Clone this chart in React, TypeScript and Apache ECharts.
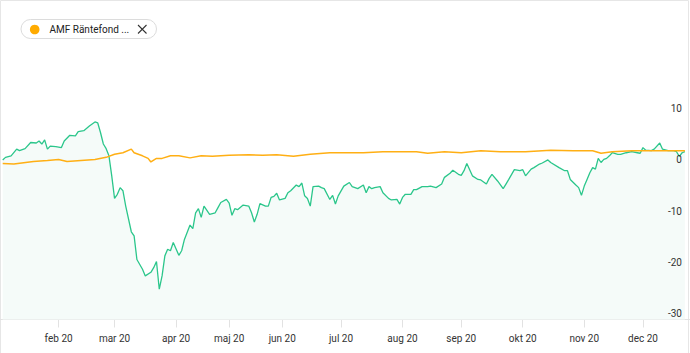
import React, { useEffect, useRef } from "react";
import * as echarts from "echarts";

// Trading days per month (Jan..Dec 2020, Dec partial) — x axis is trading-day index
const monthLabels = ["jan 20", "feb 20", "mar 20", "apr 20", "maj 20", "jun 20", "jul 20", "aug 20", "sep 20", "okt 20", "nov 20", "dec 20"];
const monthTradingDays = [20, 20, 22, 19, 19, 21, 22, 21, 22, 22, 21, 16];
const yTicks = [-30, -20, -10, 0, 10];
const legendName = "AMF Räntefond ...";

// [trading-day index, % change]
const fundValues: [number, number][] = [
  [0, 0], [1, 0.5], [3, 0.8], [5, 2.1], [6, 1.8], [8, 2.2], [10, 3.4], [12, 3.3], [13, 3.7], [14, 3.1],
  [15, 3.9], [16, 2.1], [17, 2.7], [19, 2.6], [21, 2.4], [22, 3.7], [24, 4.8], [26, 4.7], [27, 5.5], [29, 5.7],
  [31, 6.6], [33, 7.4], [34, 7.2], [35, 5.3], [36, 3.1], [37, 2.2], [38, 0.8], [39, -3.1], [40, -7.5], [41, -6.7],
  [42, -5.4], [43, -6.0], [44, -9.0], [46, -14.0], [47, -14.8], [48, -19.4], [50, -21.3], [51, -22.6], [53, -21.9], [54, -21.0],
  [55, -19.8], [56, -25.2], [57, -22.6], [58, -18.7], [59, -17.4], [60, -17.7], [61, -16.1], [63, -18.6], [64, -17.7], [65, -15.5],
  [67, -12.7], [68, -13.4], [69, -10.3], [70, -9.5], [71, -11.2], [72, -9.0], [74, -10.6], [76, -10.3], [77, -9.3], [78, -8.3],
  [80, -7.7], [81, -8.4], [82, -10.8], [83, -9.5], [84, -9.7], [86, -8.8], [88, -9.0], [89, -10.3], [90, -12.1], [91, -10.6],
  [92, -8.5], [94, -9.0], [95, -9.0], [96, -7.3], [97, -7.1], [98, -6.5], [99, -7.8], [101, -7.5], [102, -6.4], [103, -6.0],
  [105, -4.9], [106, -5.2], [107, -4.5], [108, -7.0], [109, -7.5], [110, -9.0], [111, -5.2], [113, -5.1], [114, -5.4], [115, -5.6],
  [117, -7.7], [118, -6.9], [119, -8.6], [120, -7.0], [122, -5.1], [124, -4.4], [125, -5.2], [127, -5.6], [129, -4.9], [130, -6.4],
  [131, -5.2], [132, -5.6], [133, -5.4], [135, -5.2], [136, -6.4], [138, -7.5], [139, -7.8], [141, -7.7], [142, -8.6], [143, -7.3],
  [144, -6.7], [146, -6.7], [147, -5.8], [148, -5.8], [150, -5.2], [152, -5.2], [153, -5.1], [155, -5.4], [157, -4.7], [158, -3.4],
  [160, -2.6], [161, -2.0], [163, -2.8], [164, -3.0], [165, -2.1], [166, -0.7], [168, -3.1], [170, -3.8], [171, -3.9], [173, -4.7],
  [174, -3.6], [175, -2.8], [177, -4.1], [179, -5.6], [180, -4.7], [181, -3.8], [183, -1.9], [185, -2.1], [186, -1.9], [187, -3.1],
  [189, -1.8], [190, -1.5], [192, -0.8], [193, -0.6], [195, 0], [196, -0.5], [199, -1.5], [201, -2.1], [202, -2.1], [203, -3.8],
  [205, -4.9], [206, -5.4], [207, -6.9], [208, -5.1], [209, -3.8], [210, -2.5], [211, -1.5], [212, -1.8], [213, 0.3], [214, -0.5],
  [215, 0.1], [216, 0.3], [217, 0.8], [218, 1.4], [220, 1.1], [221, 1.1], [223, 1.4], [225, 1.6], [227, 1.4], [228, 1.3],
  [229, 2.4], [230, 1.9], [232, 1.8], [233, 2.1], [235, 3.3], [236, 2.1], [238, 1.8], [240, 1.8], [241, 1.6], [242, 0.7],
  [243, 1.4], [244, 1.6],
];

const amfValues: [number, number][] = [
  [0, -0.7], [4, -0.8], [11, -0.3], [16, -0.1], [20, 0.1], [23, -0.3], [28, -0.1], [33, 0.1], [37, 0.5], [40, 1.1],
  [43, 1.4], [46, 2.1], [47, 1.4], [50, 0.8], [52, 0.3], [53, -0.4], [55, 0.3], [57, 0.3], [60, 0.8], [63, 0.8],
  [67, 0.4], [71, 0.8], [75, 0.7], [81, 0.9], [88, 1.0], [93, 0.9], [98, 1.0], [104, 0.7], [110, 1.1], [117, 1.4],
  [123, 1.4], [129, 1.4], [136, 1.6], [142, 1.6], [148, 1.6], [152, 1.3], [158, 1.6], [164, 1.4], [171, 1.8], [178, 1.6],
  [187, 1.6], [196, 1.9], [204, 1.8], [211, 1.8], [214, 1.3], [218, 1.6], [225, 1.8], [235, 1.8], [244, 1.8],
];

export default function App() {
  const ref = useRef<HTMLDivElement>(null);

  useEffect(() => {
    document.body.style.margin = "0";
    if (!ref.current) return;
    const chart = echarts.init(ref.current, null, { renderer: "svg" });

    const monthStarts: number[] = [];
    let acc = 0;
    monthTradingDays.forEach((d) => {
      monthStarts.push(acc);
      acc += d;
    });
    const lastIndex = acc - 1;
    const shownTicks = monthStarts.slice(1);
    const labelFor = (v: number) => {
      const i = monthStarts.indexOf(Math.round(v));
      return i >= 0 ? monthLabels[i] : "";
    };

    const font = "Roboto, 'Noto Sans', sans-serif";

    chart.setOption({
      animation: false,
      grid: { left: 2.7, right: 5.1, top: 104, bottom: 33.5, containLabel: false },
      xAxis: {
        type: "value",
        min: 0,
        max: lastIndex,
        axisLine: { show: false, onZero: false },
        splitLine: { show: false },
        axisTick: {
          show: true,
          customValues: shownTicks,
          length: 8,
          lineStyle: { color: "#e2e2e2", width: 1 },
        },
        axisLabel: {
          customValues: shownTicks,
          formatter: (v: number) => labelFor(v),
          color: "#333",
          fontSize: 10,
          fontFamily: font,
          margin: 14,
        },
      },
      yAxis: {
        type: "value",
        position: "right",
        min: -31.1,
        max: 10.9,
        z: 10,
        axisLine: { show: false, onZero: false },
        axisTick: { show: false },
        splitLine: { show: false },
        axisLabel: {
          inside: true,
          customValues: yTicks,
          color: "#333",
          fontSize: 10,
          fontFamily: font,
          margin: 3,
        },
      },
      series: [
        {
          type: "line",
          data: fundValues,
          showSymbol: false,
          symbol: "none",
          lineStyle: { color: "#2bc68b", width: 1.3 },
          itemStyle: { color: "#2bc68b" },
          areaStyle: { color: "#f5fbf9", origin: "start", opacity: 1 },
          z: 2,
        },
        {
          type: "line",
          data: amfValues,
          showSymbol: false,
          symbol: "none",
          lineStyle: { color: "#ffaf14", width: 1.5 },
          itemStyle: { color: "#ffaf14" },
          z: 3,
        },
      ],
      graphic: [
        {
          type: "rect",
          shape: { x: 0.5, y: 0.5, width: 688, height: 400 },
          style: { fill: "none", stroke: "#e6e6e6", lineWidth: 1 },
          silent: true,
        },
        {
          type: "line",
          shape: { x1: 0, y1: 319.5, x2: 690, y2: 319.5 },
          style: { stroke: "#e2e2e2", lineWidth: 1 },
          silent: true,
        },
        {
          type: "rect",
          shape: { x: 21, y: 19.5, width: 135.5, height: 19, r: 9.5 },
          style: { fill: "#fff", stroke: "#dcdcdc", lineWidth: 1 },
        },
        {
          type: "circle",
          shape: { cx: 34.7, cy: 29.5, r: 4.8 },
          style: { fill: "#ffab00" },
        },
        {
          type: "text",
          x: 49.5,
          y: 29.5,
          style: {
            text: legendName,
            fill: "#222",
            fontSize: 10,
            fontFamily: font,
            verticalAlign: "middle",
            align: "left",
          },
        },
        {
          type: "line",
          shape: { x1: 138, y1: 25, x2: 146.5, y2: 33.5 },
          style: { stroke: "#333", lineWidth: 1.1 },
        },
        {
          type: "line",
          shape: { x1: 146.5, y1: 25, x2: 138, y2: 33.5 },
          style: { stroke: "#333", lineWidth: 1.1 },
        },
      ],
    });

    return () => chart.dispose();
  }, []);

  return (
    <div
      ref={ref}
      style={{ position: "absolute", left: 0, top: 0, width: 690, height: 353, background: "#fff" }}
    />
  );
}
